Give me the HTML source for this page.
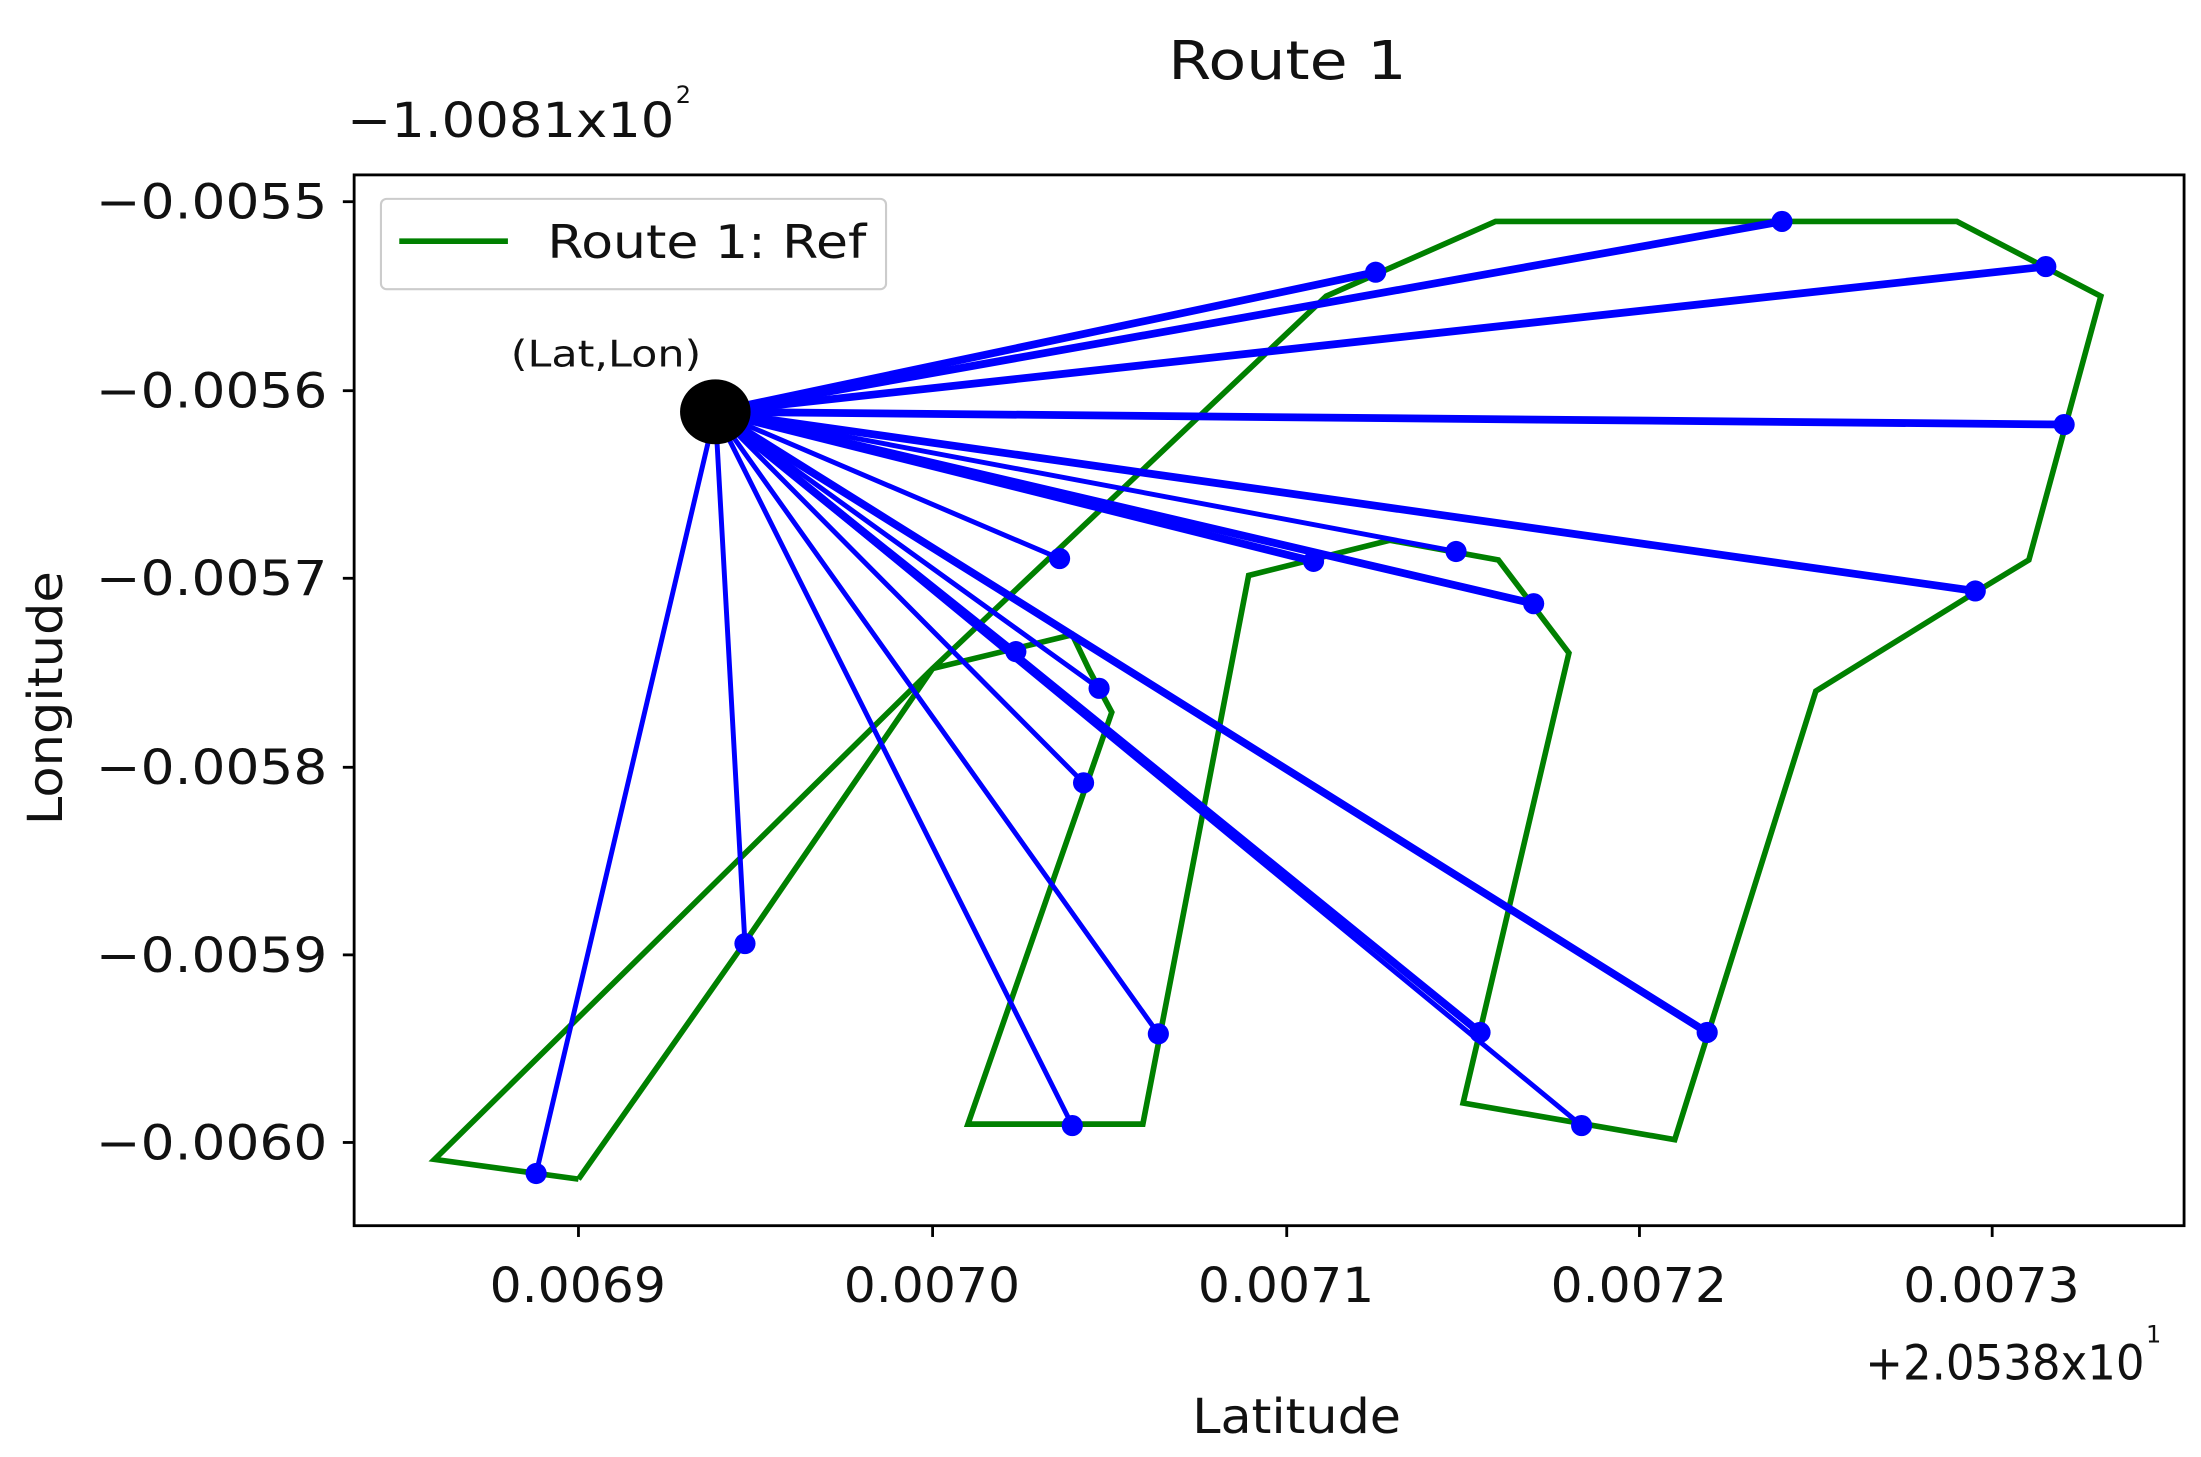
<!DOCTYPE html>
<html><head><meta charset="utf-8"><style>html,body{margin:0;padding:0;background:#fff}svg{display:block}</style></head>
<body>
<svg width="2201" height="1457" viewBox="0 0 1560 1033" preserveAspectRatio="none" xmlns="http://www.w3.org/2000/svg" font-family="'DejaVu Sans','Liberation Sans',sans-serif">
<rect width="1560" height="1033" fill="#fff"/>
<text x="828" y="56" font-size="38" textLength="169" lengthAdjust="spacingAndGlyphs" fill="#111">Route 1</text>
<text x="246" y="97" font-size="34" textLength="232" lengthAdjust="spacingAndGlyphs" fill="#111">−1.0081x10</text>
<text x="479" y="73" font-size="17" fill="#111">2</text>
<!-- green route -->
<polyline fill="none" stroke="#008000" stroke-width="4" stroke-linejoin="miter" points="410,836 528,668 661,474 940,210 1060,157 1387,157 1489,210 1438,397 1400,420 1287,490 1187,808 1037,782 1112,463 1062,397 985,383 885,408 810,797 686,797 788,505 772,475 760,450 661,474 308,822 410,836"/>
<!-- blue lines -->
<g stroke="#0000ff" fill="none" stroke-linecap="round">
<g stroke-width="5.5">
<line x1="507" y1="292" x2="975" y2="193"/>
<line x1="507" y1="292" x2="1263" y2="157"/>
<line x1="507" y1="292" x2="1450" y2="189"/>
<line x1="507" y1="292" x2="1463" y2="301"/>
<line x1="507" y1="292" x2="1400" y2="419"/>
<line x1="507" y1="292" x2="931" y2="398"/>
<line x1="507" y1="292" x2="1087" y2="428"/>
<line x1="507" y1="292" x2="1049" y2="732"/>
<line x1="507" y1="292" x2="1210" y2="732"/>
</g>
<g stroke-width="3.5">
<line x1="507" y1="292" x2="751" y2="396"/>
<line x1="507" y1="292" x2="1032" y2="391"/>
<line x1="507" y1="292" x2="720" y2="462"/>
<line x1="507" y1="292" x2="779" y2="488"/>
<line x1="507" y1="292" x2="768" y2="555"/>
<line x1="507" y1="292" x2="528" y2="669"/>
<line x1="507" y1="292" x2="380" y2="832"/>
<line x1="507" y1="292" x2="760" y2="798"/>
<line x1="507" y1="292" x2="821" y2="733"/>
<line x1="507" y1="292" x2="1121" y2="798"/>
</g>
</g>
<g fill="#0000ff">
<circle cx="975" cy="193" r="7.5"/><circle cx="1263" cy="157" r="7.5"/><circle cx="1450" cy="189" r="7.5"/><circle cx="1463" cy="301" r="7.5"/><circle cx="1400" cy="419" r="7.5"/><circle cx="751" cy="396" r="7.5"/><circle cx="931" cy="398" r="7.5"/><circle cx="1032" cy="391" r="7.5"/><circle cx="1087" cy="428" r="7.5"/><circle cx="720" cy="462" r="7.5"/><circle cx="779" cy="488" r="7.5"/><circle cx="768" cy="555" r="7.5"/><circle cx="528" cy="669" r="7.5"/><circle cx="380" cy="832" r="7.5"/><circle cx="760" cy="798" r="7.5"/><circle cx="821" cy="733" r="7.5"/><circle cx="1049" cy="732" r="7.5"/><circle cx="1121" cy="798" r="7.5"/><circle cx="1210" cy="732" r="7.5"/>
</g>
<ellipse cx="507" cy="292" rx="25" ry="23" fill="#000"/>
<text x="362" y="260" font-size="26" textLength="135" lengthAdjust="spacingAndGlyphs" fill="#111">(Lat,Lon)</text>
<!-- legend -->
<rect x="270" y="141" width="358" height="64" rx="4" fill="#fff" fill-opacity="0.85" stroke="#ccc" stroke-width="1.5"/>
<line x1="283" y1="171" x2="360" y2="171" stroke="#008000" stroke-width="4"/>
<text x="388" y="183" font-size="33" textLength="226" lengthAdjust="spacingAndGlyphs" fill="#111">Route 1: Ref</text>
<!-- axes -->
<rect x="251" y="124" width="1297" height="745" fill="none" stroke="#000" stroke-width="2"/>
<g stroke="#000" stroke-width="2">
<line x1="243" y1="143" x2="251" y2="143"/><line x1="243" y1="277" x2="251" y2="277"/><line x1="243" y1="410" x2="251" y2="410"/><line x1="243" y1="544" x2="251" y2="544"/><line x1="243" y1="677" x2="251" y2="677"/><line x1="243" y1="810" x2="251" y2="810"/>
<line x1="410" y1="869" x2="410" y2="877"/><line x1="661" y1="869" x2="661" y2="877"/><line x1="912" y1="869" x2="912" y2="877"/><line x1="1162" y1="869" x2="1162" y2="877"/><line x1="1412" y1="869" x2="1412" y2="877"/>
</g>
<g font-size="34" fill="#111">
<text x="68" y="155" textLength="164" lengthAdjust="spacingAndGlyphs">−0.0055</text>
<text x="68" y="289" textLength="164" lengthAdjust="spacingAndGlyphs">−0.0056</text>
<text x="68" y="422" textLength="164" lengthAdjust="spacingAndGlyphs">−0.0057</text>
<text x="68" y="556" textLength="164" lengthAdjust="spacingAndGlyphs">−0.0058</text>
<text x="68" y="689" textLength="164" lengthAdjust="spacingAndGlyphs">−0.0059</text>
<text x="68" y="822" textLength="164" lengthAdjust="spacingAndGlyphs">−0.0060</text>
</g>
<g font-size="34" fill="#111">
<text x="347" y="923" textLength="125" lengthAdjust="spacingAndGlyphs">0.0069</text>
<text x="598" y="923" textLength="125" lengthAdjust="spacingAndGlyphs">0.0070</text>
<text x="849" y="923" textLength="125" lengthAdjust="spacingAndGlyphs">0.0071</text>
<text x="1099" y="923" textLength="125" lengthAdjust="spacingAndGlyphs">0.0072</text>
<text x="1349" y="923" textLength="125" lengthAdjust="spacingAndGlyphs">0.0073</text>
</g>
<text x="1322" y="978" font-size="34" textLength="198" lengthAdjust="spacingAndGlyphs" fill="#111">+2.0538x10</text>
<text x="1521" y="952" font-size="17" fill="#111">1</text>
<text x="845" y="1016" font-size="34" textLength="148" lengthAdjust="spacingAndGlyphs" fill="#111">Latitude</text>
<text transform="translate(44,585) rotate(-90)" font-size="34" textLength="180" lengthAdjust="spacingAndGlyphs" fill="#111">Longitude</text>
</svg>
</body></html>
